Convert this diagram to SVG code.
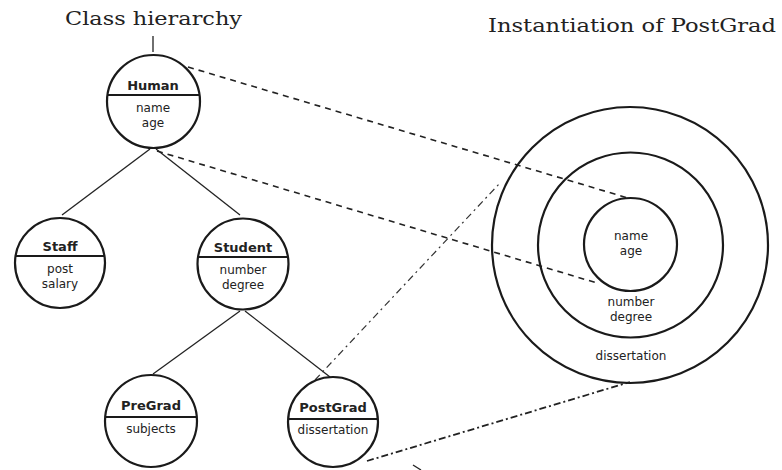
<svg xmlns="http://www.w3.org/2000/svg" width="782" height="470" viewBox="0 0 782 470">
<style>
.bg{fill:#ffffff}
.node circle{fill:none;stroke:#1a1a1a;stroke-width:2.2}
.node line{stroke:#1a1a1a;stroke-width:2}
.ring{fill:none;stroke:#1a1a1a;stroke-width:2.2}
.title{font-family:"DejaVu Serif","Liberation Serif",serif;font-size:18px;fill:#222}
.cls{font-family:"DejaVu Sans","Liberation Sans",sans-serif;font-weight:bold;font-size:13px;fill:#222;text-anchor:middle}
.attr{font-family:"DejaVu Sans","Liberation Sans",sans-serif;font-size:12px;fill:#222;text-anchor:middle}
.tree{stroke:#222;stroke-width:1.3;fill:none}
.dash{stroke:#222;stroke-width:1.6;stroke-dasharray:6 5;fill:none}
.dashdot{stroke:#333;stroke-width:1.2;stroke-dasharray:7 4 2 4;fill:none}
.dashdot2{stroke:#222;stroke-width:1.8;stroke-dasharray:7 3 2 3;fill:none}
</style>
<rect class="bg" x="0" y="0" width="782" height="470"/>
<text class="title" x="65" y="25" textLength="177" lengthAdjust="spacingAndGlyphs">Class hierarchy</text>
<text class="title" x="488" y="32" textLength="288" lengthAdjust="spacingAndGlyphs">Instantiation of PostGrad</text>
<g id="connectors">
<line class="tree" x1="153" y1="36" x2="153" y2="52"/>
<line class="tree" x1="150" y1="149" x2="62" y2="215"/>
<line class="tree" x1="156" y1="149" x2="240" y2="215"/>
<line class="tree" x1="240" y1="311" x2="153" y2="374"/>
<line class="tree" x1="245" y1="311" x2="330" y2="377"/>
<line class="dash" x1="188" y1="67" x2="628" y2="198"/>
<line class="dash" x1="157" y1="151" x2="597" y2="283"/>
<line class="dashdot" x1="315" y1="380" x2="500" y2="183"/>
<line class="dashdot2" x1="367" y1="461" x2="630" y2="382"/>
<line class="tree" x1="413" y1="465" x2="421" y2="470"/>
</g>
<g id="human" class="node">
<circle cx="153.5" cy="101.5" r="46.5"/>
<line x1="107" y1="95" x2="200" y2="95"/>
<text class="cls" x="153" y="90">Human</text>
<text class="attr" x="153" y="112">name</text>
<text class="attr" x="153" y="127">age</text>
</g>
<g id="staff" class="node">
<circle cx="60" cy="263" r="45"/>
<line x1="15" y1="256" x2="105" y2="256"/>
<text class="cls" x="60" y="251">Staff</text>
<text class="attr" x="60" y="273">post</text>
<text class="attr" x="60" y="288">salary</text>
</g>
<g id="student" class="node">
<circle cx="243" cy="264" r="45.5"/>
<line x1="198" y1="257" x2="288" y2="257"/>
<text class="cls" x="243" y="252">Student</text>
<text class="attr" x="243" y="274">number</text>
<text class="attr" x="243" y="289">degree</text>
</g>
<g id="pregrad" class="node">
<circle cx="151" cy="421" r="46"/>
<line x1="105" y1="417" x2="197" y2="417"/>
<text class="cls" x="151" y="410">PreGrad</text>
<text class="attr" x="151" y="433">subjects</text>
</g>
<g id="postgrad" class="node">
<circle cx="333" cy="422" r="45"/>
<line x1="288" y1="419" x2="378" y2="419"/>
<text class="cls" x="333" y="412">PostGrad</text>
<text class="attr" x="333" y="434">dissertation</text>
</g>
<g id="instance">
<circle class="ring" cx="630" cy="245" r="138"/>
<circle class="ring" cx="630.5" cy="245" r="92.5"/>
<circle class="ring" cx="630.5" cy="244.5" r="46.5"/>
<text class="attr" x="631" y="240">name</text>
<text class="attr" x="631" y="255">age</text>
<text class="attr" x="631" y="306">number</text>
<text class="attr" x="631" y="321">degree</text>
<text class="attr" x="631" y="360">dissertation</text>
</g>
</svg>
